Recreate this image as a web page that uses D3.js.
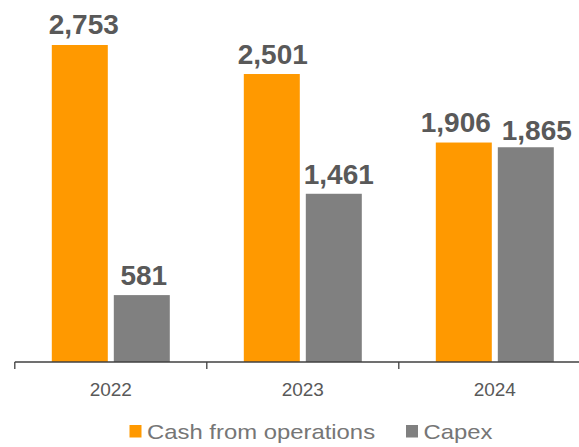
<!DOCTYPE html>
<html><head><meta charset="utf-8">
<script src="https://cdn.jsdelivr.net/npm/d3@7"></script>
<style>body{margin:0;background:#fff}svg{display:block}</style>
</head><body>
<svg id="c" width="579" height="447"></svg>
<script>
const categories = ["2022", "2023", "2024"];
const seriesNames = ["Cash from operations", "Capex"];
const cashFromOps = [2753, 2501, 1906];
const capex = [581, 1461, 1865];
const colors = ["#FF9900", "#808080"];

const svg = d3.select("#c");
const x0 = 14.8, bw = 192, y0 = 362;
const x = d3.scaleBand().domain(categories).range([x0, x0 + bw * 3]).paddingInner(0).paddingOuter(0);
const y = d3.scaleLinear().domain([0, 2753]).range([y0, 45]);
const barW = 56, gap = 6, off = 37;
const font = "Liberation Sans, Arial, sans-serif";
// label nudges (placement only)
const labelDx = [[4, 1, -8], [2, 5, 11]];
const labelGap = [[11, 10, 11], [10, 10, 7]];

const series = [cashFromOps, capex];
series.forEach((vals, si) => {
  const g = svg.append("g");
  g.selectAll("rect").data(vals).join("rect")
    .attr("x", (d, i) => x(categories[i]) + off + si * (barW + gap))
    .attr("y", d => y(d))
    .attr("width", barW)
    .attr("height", d => y0 - y(d))
    .attr("fill", colors[si]);
  g.selectAll("text").data(vals).join("text")
    .attr("x", (d, i) => x(categories[i]) + off + si * (barW + gap) + barW / 2 + labelDx[si][i])
    .attr("y", (d, i) => y(d) - labelGap[si][i])
    .attr("text-anchor", "middle")
    .attr("font-family", font)
    .attr("font-weight", "bold")
    .attr("font-size", 28)
    .attr("fill", "#595959")
    .text(d => d3.format(",")(d));
});

const axis = d3.axisBottom(x).tickSize(7).tickSizeOuter(0).tickPadding(14);
const ag = svg.append("g").attr("transform", `translate(0,${y0})`).call(axis);
ag.select(".domain").attr("stroke", "#404040").attr("stroke-width", 1.5).attr("d", `M${x0},0H579`);
ag.selectAll(".tick line").attr("stroke", "#404040").attr("stroke-width", 1.3)
  .attr("x1", -bw / 2).attr("x2", -bw / 2);
ag.selectAll(".tick text").attr("font-family", font)
  .attr("font-size", 19).attr("fill", "#595959");

const leg = svg.append("g");
const legX = [129.5, 406];
seriesNames.forEach((n, i) => {
  leg.append("rect").attr("x", legX[i]).attr("y", 425).attr("width", 12).attr("height", 12.5).attr("fill", colors[i]);
  const t = leg.append("text").attr("x", legX[i] + 17.5).attr("y", 438.5)
    .attr("font-family", font).attr("font-size", 21)
    .attr("fill", "#767676").text(n);
  const w = t.node().getComputedTextLength();
  t.attr("textLength", w * 1.136).attr("lengthAdjust", "spacingAndGlyphs");
});
</script>
</body></html>
